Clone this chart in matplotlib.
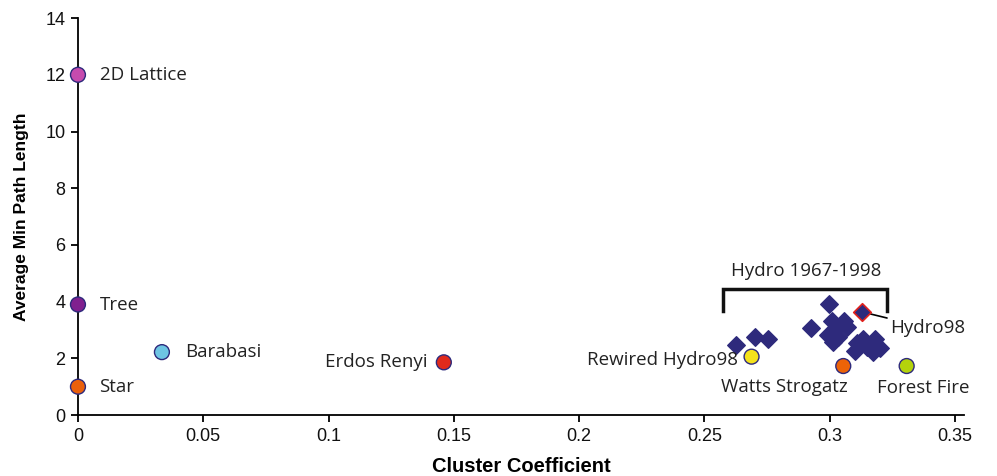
import numpy as np
import matplotlib.pyplot as plt

# Reference networks (circles)
ref_names = ['2D Lattice', 'Tree', 'Star', 'Barabasi', 'Erdos Renyi',
             'Rewired Hydro98', 'Watts Strogatz', 'Forest Fire']
ref_cc = [0.0, 0.0, 0.0, 0.0335, 0.146, 0.2688, 0.3054, 0.3307]
ref_pl = [12.0, 3.9, 1.0, 2.22, 1.86, 2.06, 1.73, 1.73]
ref_colors = ['#C64BAE', '#80208F', '#EA600C', '#6EC5E3', '#E02A1C',
              '#F4E21C', '#EC6308', '#B4D30C']

# Hydro networks 1967-1998 (diamonds)
hydro_cc = [0.2626, 0.2702, 0.2752, 0.2998, 0.2925, 0.3008, 0.3058, 0.3067,
            0.3021, 0.2994, 0.3034, 0.3014, 0.3107, 0.3134, 0.3181, 0.3147,
            0.3201, 0.3101, 0.3174]
hydro_pl = [2.47, 2.74, 2.67, 3.91, 3.06, 3.33, 3.33, 3.11,
            3.02, 2.82, 2.76, 2.58, 2.53, 2.67, 2.67, 2.41,
            2.38, 2.27, 2.23]
hydro98 = (0.3128, 3.64)

# bracket around the hydro group
bracket_x = [0.2574, 0.3229]
bracket_y = [3.67, 4.44]

navy = '#2E2A7C'
label_font = 'Open Sans'
label_size = 13.5

fig = plt.figure(figsize=(9.97, 4.76), dpi=100)
ax = fig.add_axes([0.0782, 0.128, 0.889, 0.834])

ax.scatter(hydro_cc, hydro_pl, marker='D', s=80, color=navy, zorder=3)
ax.scatter([hydro98[0]], [hydro98[1]], marker='D', s=80, color=navy,
           edgecolor='#E0201C', linewidth=1.2, zorder=4)

ax.scatter(ref_cc, ref_pl, s=115, c=ref_colors, edgecolor=navy,
           linewidth=1.0, zorder=5, clip_on=False)

# labels for reference networks (offsets in pixels)
offsets = {
    '2D Lattice': (22, 0, 'left'),
    'Tree': (22, -1, 'left'),
    'Star': (21, 0, 'left'),
    'Barabasi': (23, 0, 'left'),
    'Erdos Renyi': (-16, 0, 'right'),
    'Rewired Hydro98': (-14, -3, 'right'),
    'Watts Strogatz': (-59, -21, 'center'),
    'Forest Fire': (17, -22, 'center'),
}
for name, x, y in zip(ref_names, ref_cc, ref_pl):
    dx, dy, ha = offsets[name]
    ax.annotate(name, (x, y), xytext=(dx, dy), textcoords='offset pixels',
                ha=ha, va='center', fontsize=label_size, family=label_font,
                color='#222222')

ax.annotate('Hydro98', hydro98, xytext=(28, -16), textcoords='offset pixels',
            ha='left', va='center', fontsize=label_size, family=label_font,
            color='#222222',
            arrowprops=dict(arrowstyle='-', color='black', lw=1.2,
                            shrinkA=0, shrinkB=2))

# bracket
ax.plot([bracket_x[0], bracket_x[0], bracket_x[1], bracket_x[1]],
        [bracket_y[0], bracket_y[1], bracket_y[1], bracket_y[0]],
        color='#111111', lw=2.5, solid_joinstyle='miter', zorder=2)
ax.annotate('Hydro 1967-1998', (np.mean(bracket_x), bracket_y[1]),
            xytext=(1, 18), textcoords='offset pixels', ha='center',
            va='center', fontsize=label_size, family=label_font,
            color='#222222')

ax.set_xlim(0, 0.3537)
ax.set_ylim(0, 14)
ax.set_xticks([0, 0.05, 0.1, 0.15, 0.2, 0.25, 0.3, 0.35])
ax.set_xticklabels(['0', '0.05', '0.1', '0.15', '0.2', '0.25', '0.3', '0.35'])
ax.set_yticks(range(0, 15, 2))

for s in ['top', 'right']:
    ax.spines[s].set_visible(False)
for s in ['left', 'bottom']:
    ax.spines[s].set_linewidth(1.3)
ax.tick_params(direction='out', length=5, width=1.3, pad=4,
               labelsize=13, labelcolor='#111111')
for lbl in ax.get_xticklabels() + ax.get_yticklabels():
    lbl.set_family('Liberation Sans')

ax.set_xlabel('Cluster Coefficient', fontsize=14.5, fontweight='bold',
              family='Liberation Sans', labelpad=9)
ax.set_ylabel('Average Min Path Length', fontsize=12.5, fontweight='bold',
              family='Liberation Sans', labelpad=12)

plt.savefig('out.png', dpi=100)
